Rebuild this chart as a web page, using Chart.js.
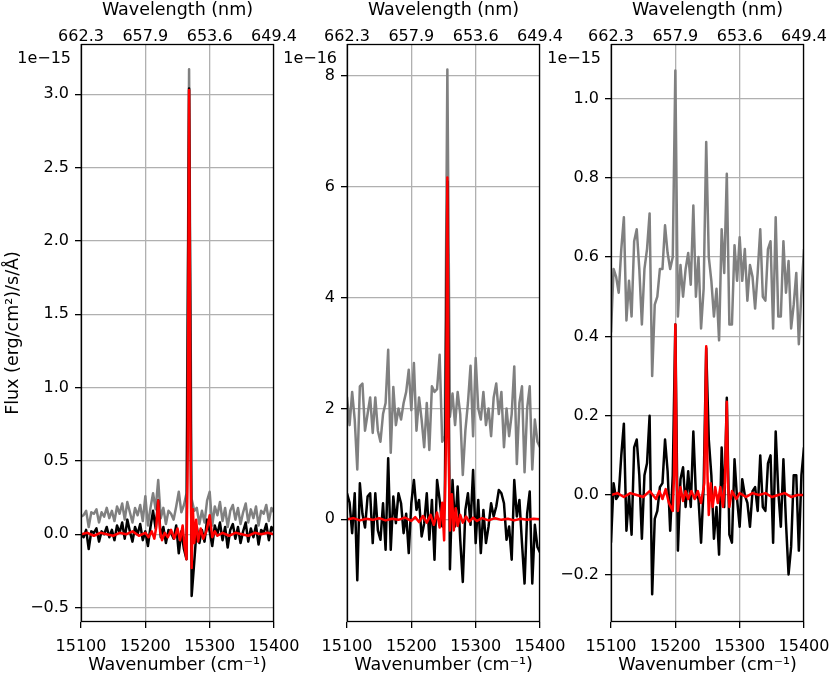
<!DOCTYPE html>
<html>
<head>
<meta charset="utf-8">
<script src="https://cdn.jsdelivr.net/npm/chart.js@4.4.0/dist/chart.umd.min.js"></script>
<style>
  html, body { margin: 0; padding: 0; background: #fff; }
  #wrap { position: relative; width: 831px; height: 673px; overflow: hidden; }
  #wrap canvas { position: absolute; top: 0; }
</style>
</head>
<body>
<div id="wrap">
  <canvas id="c1" width="320" height="673" style="left:0px"></canvas>
  <canvas id="c2" width="320" height="673" style="left:266px"></canvas>
  <canvas id="c3" width="320" height="673" style="left:530px"></canvas>
</div>
<script>
/* ── 축 눈금 ──────────────────────────────────────────────── */
var wavenumberTicks = [15100, 15200, 15300, 15400];
var wavelengthTicks = ['662.3', '657.9', '653.6', '649.4'];
var yTicks1 = [-0.5, 0.0, 0.5, 1.0, 1.5, 2.0, 2.5, 3.0];
var yTicks2 = [0, 2, 4, 6, 8];
var yTicks3 = [-0.2, 0.0, 0.2, 0.4, 0.6, 0.8, 1.0];
var offsetLabels = ['1e\u221215', '1e\u221216', '1e\u221215'];

/* ── 회색/검정 스펙트럼 샘플 위치 (cm-1) ─────────────────── */
var wnGrid = [15100,15104,15108,15112,15116,15120,15124,15128,15132,15136,15140,15144,15148,15152,15156,15160,
  15164,15168,15172,15176,15180,15184,15188,15192,15196,15200,15204,15208,15212,15216,15220,15224,15228,15232,
  15236,15240,15244,15248,15252,15256,15260,15264,15268,15272,15276,15280,15284,15288,15292,15296,15300,15304,
  15308,15312,15316,15320,15324,15328,15332,15336,15340,15344,15348,15352,15356,15360,15364,15368,15372,15376,
  15380,15384,15388,15392,15396,15400];

/* ── 패널 1 (×1e-15) ─────────────────────────────────────── */
var gray1 = [0.12,0.13,0.16,0.05,0.15,0.14,0.17,0.08,0.15,0.12,0.18,0.11,0.16,0.09,0.19,0.14,0.21,0.10,0.22,0.15,
  0.08,0.18,0.13,0.20,0.09,0.26,0.06,0.18,0.28,0.17,0.37,0.11,0.18,0.07,0.16,0.14,0.10,0.19,0.29,0.15,
  0.20,0.28,3.17,0.24,0.16,0.18,0.07,0.16,0.08,0.23,0.29,0.06,0.19,0.13,0.22,0.09,0.18,0.05,0.16,0.20,
  0.10,0.18,0.07,0.15,0.21,0.08,0.17,0.11,0.19,0.06,0.16,0.14,0.20,0.09,0.18,0.15];
var black1 = [0.00,-0.02,0.03,-0.10,0.02,0.01,0.04,-0.05,0.02,0.00,0.05,-0.02,0.03,-0.04,0.06,0.01,0.08,-0.03,0.10,0.02,
  -0.05,0.05,0.00,0.07,-0.04,0.02,-0.08,0.05,0.16,0.04,0.23,-0.02,0.05,-0.06,0.03,0.01,-0.03,0.06,-0.13,0.02,
  -0.10,-0.17,3.04,-0.42,-0.19,0.05,-0.06,0.03,-0.05,0.10,0.02,-0.08,0.06,0.00,0.08,-0.04,0.05,-0.09,0.03,0.07,
  -0.03,0.05,-0.06,0.02,0.08,-0.05,0.04,-0.02,0.06,-0.07,0.03,0.01,0.07,-0.04,0.05,0.02];
var redX1 = [15100,15110,15120,15130,15140,15150,15160,15170,15180,15190,15200,15205,15210,15214,15217,15220,15223,
  15226,15230,15235,15240,15245,15250,15254,15258,15261,15264,15266,15268,15270,15272,15274,15276,15279,15282,
  15286,15290,15295,15300,15304,15308,15312,15320,15330,15340,15350,15360,15370,15380,15390,15400];
var redY1 = [0.00,0.01,-0.01,0.01,0.00,-0.01,0.01,0.00,0.02,-0.01,0.01,-0.02,0.02,-0.03,0.05,0.23,0.02,
  -0.04,0.01,-0.02,0.03,-0.03,0.04,-0.04,0.06,-0.08,-0.17,0.60,3.03,0.80,-0.23,0.17,-0.06,0.10,-0.05,
  0.04,-0.03,0.02,0.13,-0.02,0.02,-0.01,0.01,-0.01,0.01,0.00,-0.01,0.01,0.00,0.01,0.00];

/* ── 패널 2 (×1e-16) ─────────────────────────────────────── */
var gray2 = [2.21,1.70,2.30,1.80,0.90,2.40,2.45,1.60,1.90,2.20,1.56,2.20,1.60,1.40,1.90,2.10,3.06,1.20,2.39,1.70,
  2.00,1.80,2.10,2.30,2.70,1.97,2.82,1.60,2.20,1.80,1.30,2.10,1.25,2.40,2.30,2.35,2.97,1.40,1.50,8.12,
  1.85,2.27,1.70,2.30,1.90,0.80,1.60,2.10,2.77,1.50,2.91,2.00,1.80,2.30,1.70,2.00,1.50,2.20,2.45,1.90,
  2.30,1.30,2.00,1.50,1.90,2.76,1.00,2.10,2.40,0.85,2.00,2.40,0.90,1.80,1.40,1.30];
var black2 = [0.47,0.30,-0.25,0.47,-1.10,0.65,0.10,-0.15,0.41,0.47,-0.43,0.47,-0.20,-0.37,0.29,-0.55,1.10,-0.55,0.41,-0.07,
  0.47,0.29,-0.25,0.10,-0.61,0.29,0.71,0.17,0.35,-0.31,-0.07,0.47,-0.37,0.35,-0.73,0.71,0.35,-0.13,0.30,6.10,
  -0.90,0.71,-0.13,0.59,-0.37,-1.13,0.17,0.47,-0.10,0.89,-0.43,0.35,-0.61,0.17,-0.43,-0.13,0.29,0.05,0.23,0.53,
  0.47,0.29,-0.37,-0.13,-0.73,0.71,0.05,0.35,-0.43,-1.16,0.10,0.50,-1.16,-0.10,-0.50,-0.60];
var redX2 = [15100,15110,15120,15130,15140,15150,15160,15170,15180,15190,15200,15206,15212,15218,15224,15230,15235,
  15240,15244,15248,15251,15254,15256,15258,15260,15263,15266,15269,15272,15276,15280,15285,15290,15296,15302,
  15310,15320,15330,15340,15350,15360,15370,15380,15390,15400];
var redY2 = [0.00,0.02,-0.02,0.01,-0.01,0.02,-0.02,0.01,-0.01,0.03,-0.03,0.04,-0.05,0.06,-0.06,0.08,-0.10,
  0.12,-0.15,0.30,-0.38,1.50,6.17,1.20,-0.20,0.45,-0.20,0.20,-0.12,0.08,-0.06,0.05,-0.04,0.03,-0.03,
  0.02,-0.02,0.02,-0.01,0.01,-0.02,0.01,-0.01,0.01,0.00];

/* ── 패널 3 (×1e-15) ─────────────────────────────────────── */
var gray3 = [0.41,0.57,0.55,0.51,0.62,0.70,0.44,0.54,0.45,0.64,0.67,0.57,0.43,0.57,0.62,0.71,0.30,0.48,0.50,0.57,
  0.57,0.68,0.61,0.57,0.60,1.07,0.45,0.58,0.50,0.57,0.61,0.53,0.73,0.50,0.60,0.42,0.52,0.89,0.60,0.54,
  0.45,0.52,0.39,0.67,0.56,0.81,0.43,0.43,0.63,0.54,0.65,0.54,0.62,0.49,0.58,0.55,0.47,0.56,0.67,0.50,
  0.49,0.62,0.64,0.42,0.70,0.45,0.45,0.64,0.51,0.59,0.42,0.48,0.56,0.38,0.51,0.62];
var black3 = [-0.12,0.03,-0.01,0.00,0.10,0.18,-0.09,0.00,-0.10,0.12,0.14,0.05,-0.11,0.05,0.08,0.20,-0.25,-0.06,-0.04,0.02,
  0.03,0.14,0.06,-0.09,0.05,0.43,-0.14,0.04,0.07,-0.03,0.06,-0.03,0.16,0.00,-0.01,-0.12,0.02,0.37,0.14,0.05,
  -0.11,-0.03,-0.15,0.12,-0.03,0.245,-0.10,-0.12,0.09,-0.01,-0.08,0.04,0.00,-0.02,-0.08,0.01,0.02,-0.04,0.10,-0.03,
  -0.04,0.08,0.10,-0.12,0.16,0.01,-0.08,0.09,-0.07,-0.20,-0.13,0.05,0.05,-0.14,0.05,0.12];
var redX3 = [15100,15110,15120,15130,15140,15150,15160,15170,15175,15180,15185,15190,15196,15198,15200,15202,15204,
  15208,15212,15216,15220,15225,15230,15235,15240,15245,15248,15250,15252,15255,15258,15262,15266,15270,15274,
  15277,15280,15282,15284,15288,15295,15300,15310,15320,15330,15340,15350,15360,15370,15380,15390,15400];
var redY3 = [0,0.005,-0.005,0.005,0,-0.005,0.01,-0.01,0.01,-0.01,0.015,-0.02,-0.04,0.05,0.43,0.05,-0.04,
  0.02,-0.015,0.01,-0.01,0.01,-0.01,0.01,-0.02,0.03,0.375,0.05,-0.05,0.03,-0.03,0.02,-0.02,0.02,-0.03,
  0.03,0.235,0.02,-0.03,0.01,-0.01,0.005,-0.005,0.005,0,0.005,-0.005,0,0.005,-0.005,0,0];

/* ── 공통 스타일 ──────────────────────────────────────────── */
var FONT = 'DejaVu Sans';
var tickFont = { family: FONT, size: 16, lineHeight: 1 };
var labelFont = { family: FONT, size: 17.5, lineHeight: 1 };
var PLOT_W = 193, AXIS_W = 81, TOP_H = 44, BOTTOM_H = 51;
Chart.defaults.color = '#000';

function pairs(xs, ys) {
  return xs.map(function(x, i) { return { x: x, y: ys[i] }; });
}
function fixTicks(list) {
  return function(s) { s.ticks = list.map(function(v) { return { value: v }; }); };
}
function fmt(dec) {
  return function(v) { return v.toFixed(dec).replace('-', '\u2212'); };
}

/* 테두리 + 지수 표기 */
var framePlugin = {
  id: 'frame',
  afterDraw: function(chart, args, opts) {
    var a = chart.chartArea, ctx = chart.ctx;
    var l = Math.round(a.left) + 0.5, t = Math.round(a.top) + 0.5;
    var r = Math.round(a.right) - 0.5, b = Math.round(a.bottom) - 0.5;
    ctx.save();
    ctx.strokeStyle = '#000';
    ctx.lineWidth = 1.3;
    ctx.strokeRect(l, t, r - l, b - t);
    ctx.font = '16px "' + FONT + '"';
    ctx.fillStyle = '#000';
    ctx.textAlign = 'right';
    ctx.textBaseline = 'middle';
    ctx.fillText(opts.text, a.left - 10, 58.5);
    ctx.restore();
  }
};

function line(data, color, order) {
  return {
    data: data, borderColor: color, borderWidth: 2.5, pointRadius: 0, tension: 0, fill: false,
    borderJoinStyle: 'round', order: order
  };
}

function makePanel(id, gray, black, redX, redY, yMin, yMax, yTicks, dec, offset, yTitle) {
  var canvas = document.getElementById(id);
  new Chart(canvas, {
    type: 'line',
    data: {
      datasets: [
        line(pairs(redX, redY), '#ff0000', 1),
        line(pairs(wnGrid, black), '#000000', 2),
        line(pairs(wnGrid, gray), '#808080', 3)
      ]
    },
    options: {
      responsive: false, animation: false, devicePixelRatio: 1, events: [],
      layout: { padding: { left: 0, right: canvas.width - AXIS_W - PLOT_W, top: 0, bottom: 0 } },
      plugins: { legend: { display: false }, tooltip: { enabled: false }, frame: { text: offset } },
      scales: {
        x: {
          type: 'linear', position: 'bottom', min: 15100, max: 15400,
          afterBuildTicks: fixTicks(wavenumberTicks),
          afterFit: function(s) { s.height = BOTTOM_H; s.paddingLeft = 0; s.paddingRight = 0; },
          ticks: { font: tickFont, color: '#000', padding: 11, maxRotation: 0, autoSkip: false,
                   callback: function(v) { return String(v); } },
          grid: { color: '#b0b0b0', lineWidth: 1.3, tickColor: '#000', tickLength: 6, tickWidth: 1.3 },
          border: { display: false },
          title: { display: true, text: 'Wavenumber (cm\u207b\u00b9)', font: labelFont, color: '#000',
                   padding: { top: 0, bottom: -1 } }
        },
        x2: {
          type: 'linear', position: 'top', min: 15100, max: 15400,
          afterBuildTicks: fixTicks(wavenumberTicks),
          afterFit: function(s) { s.height = TOP_H; s.paddingLeft = 0; s.paddingRight = 0; },
          ticks: { font: tickFont, color: '#000', padding: -1, maxRotation: 0, autoSkip: false,
                   callback: function(v, i) { return wavelengthTicks[i]; } },
          grid: { drawOnChartArea: false, drawTicks: false, tickLength: 0 },
          border: { display: false },
          title: { display: true, text: 'Wavelength (nm)', font: labelFont, color: '#000',
                   padding: { top: 1.5, bottom: 0 } }
        },
        y: {
          type: 'linear', position: 'left', min: yMin, max: yMax,
          afterBuildTicks: fixTicks(yTicks),
          afterFit: function(s) { s.width = AXIS_W; s.paddingTop = 0; s.paddingBottom = 0; },
          ticks: { font: tickFont, color: '#000', padding: 6, autoSkip: false, callback: fmt(dec) },
          grid: { color: '#b0b0b0', lineWidth: 1.3, tickColor: '#000', tickLength: 6, tickWidth: 1.3 },
          border: { display: false },
          title: { display: !!yTitle, text: yTitle || '', font: labelFont, color: '#000',
                   padding: { top: 5, bottom: 0 } }
        }
      }
    },
    plugins: [framePlugin]
  });
}

makePanel('c1', gray1, black1, redX1, redY1, -0.598, 3.343, yTicks1, 1, offsetLabels[0], 'Flux (erg/cm\u00b2)/s/\u00c5)');
makePanel('c2', gray2, black2, redX2, redY2, -1.854, 8.58, yTicks2, 0, offsetLabels[1], null);
makePanel('c3', gray3, black3, redX3, redY3, -0.320, 1.137, yTicks3, 1, offsetLabels[2], null);
</script>
</body>
</html>
